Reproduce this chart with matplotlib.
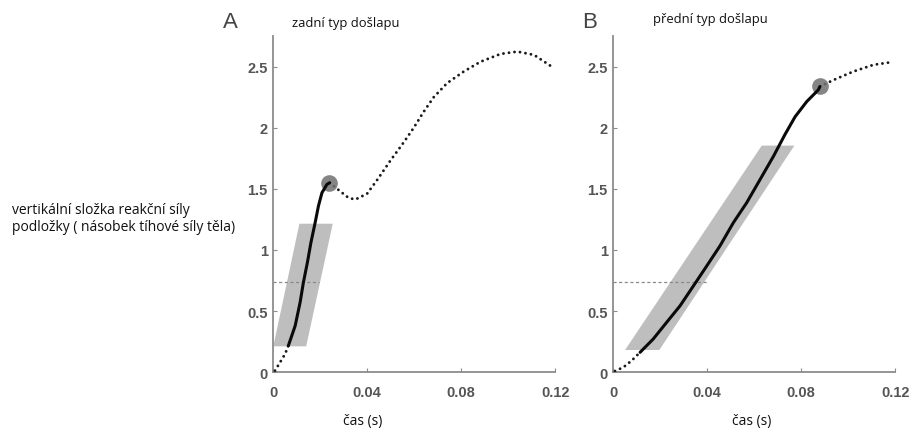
import matplotlib
matplotlib.use("Agg")
import matplotlib.pyplot as plt

# panel A (zadní typ došlapu)
a_start_t = [0.0007, 0.0029, 0.0050, 0.0064]
a_start_f = [0.013, 0.082, 0.149, 0.217]
a_solid_t = [0.0064, 0.0093, 0.0114, 0.0128, 0.0145, 0.0160, 0.0178, 0.0192,
             0.0207, 0.0228, 0.0240]
a_solid_f = [0.217, 0.38, 0.571, 0.734, 0.897, 1.06, 1.223, 1.359,
             1.468, 1.536, 1.55]
a_end_t = [0.0240, 0.0285, 0.0320, 0.0349, 0.0399, 0.0441, 0.0498, 0.0555,
           0.0598, 0.0640, 0.0683, 0.0740, 0.0811, 0.0882, 0.0968, 0.1039,
           0.1110, 0.1195]
a_end_f = [1.55, 1.48, 1.427, 1.413, 1.46, 1.57, 1.73, 1.88,
           2.0, 2.13, 2.25, 2.365, 2.46, 2.54, 2.604, 2.623,
           2.596, 2.488]
a_band_t = [0.0, 0.0140, 0.0253, 0.0111]
a_band_f = [0.212, 0.212, 1.215, 1.215]
a_dash_t = [0.0, 0.0196]
a_peak = (0.0239, 1.55)

# panel B (přední typ došlapu)
b_start_t = [0.0007, 0.0043, 0.0078, 0.0114]
b_start_f = [0.01, 0.041, 0.095, 0.163]
b_solid_t = [0.0114, 0.0170, 0.0227, 0.0284, 0.0341, 0.0398, 0.0454, 0.0511,
             0.0568, 0.0625, 0.0682, 0.0731, 0.0774, 0.0824, 0.0873, 0.0880]
b_solid_f = [0.163, 0.272, 0.408, 0.543, 0.706, 0.87, 1.033, 1.223,
             1.387, 1.577, 1.767, 1.945, 2.09, 2.215, 2.31, 2.338]
b_end_t = [0.0880, 0.0937, 0.1022, 0.1108, 0.1186]
b_end_f = [2.338, 2.39, 2.46, 2.515, 2.537]
b_band_t = [0.005, 0.0196, 0.0771, 0.0632]
b_band_f = [0.182, 0.182, 1.854, 1.854]
b_dash_t = [0.0, 0.0398]
b_peak = (0.0880, 2.338)

dash_level = 0.74
xticks = [0, 0.04, 0.08, 0.12]
xlabels = ["0", "0.04", "0.08", "0.12"]
yticks = [0, 0.5, 1, 1.5, 2, 2.5]
ylabels = ["0", "0.5", "1", "1.5", "2", "2.5"]

fig = plt.figure(figsize=(9.12, 4.31), dpi=100)
axA = fig.add_axes([0.2997, 0.134, 0.309, 0.780])
axB = fig.add_axes([0.6725, 0.134, 0.309, 0.780])

panels = [
    (axA, a_start_t, a_start_f, a_solid_t, a_solid_f, a_end_t, a_end_f,
     a_band_t, a_band_f, a_dash_t, a_peak),
    (axB, b_start_t, b_start_f, b_solid_t, b_solid_f, b_end_t, b_end_f,
     b_band_t, b_band_f, b_dash_t, b_peak),
]

for ax, st, sf, lt, lf, et, ef, bt, bf, dt, pk in panels:
    ax.fill(bt, bf, color="#bebebe", lw=0, zorder=1)
    ax.plot(dt, [dash_level, dash_level], color="#8a8a8a", lw=0.9,
            ls=(0, (2.5, 2)), zorder=2)
    for t, f in [(st, sf), (et, ef)]:
        ax.plot(t, f, color="#1a1a1a", lw=2.1, ls=(0, (0.01, 1.9)),
                dash_capstyle="round", zorder=3)
    ax.plot(pk[0], pk[1], "o", ms=12, color="#707070", alpha=0.85,
            mec="none", zorder=3)
    ax.plot(lt, lf, color="#0a0a0a", lw=2.2, solid_capstyle="round",
            solid_joinstyle="round", zorder=4)

    ax.set_xlim(0, 0.12)
    ax.set_ylim(0, 2.75)
    for s in ["top", "right"]:
        ax.spines[s].set_visible(False)
    for s in ["left", "bottom"]:
        ax.spines[s].set_color("#8c8c8c")
        ax.spines[s].set_linewidth(1.3)
    ax.set_xticks(xticks)
    ax.set_xticklabels(xlabels)
    ax.set_yticks(yticks)
    ax.set_yticklabels(ylabels)
    ax.tick_params(direction="in", length=3, color="#8c8c8c", labelcolor="#555555")
    ax.tick_params(axis="x", pad=9)
    ax.tick_params(axis="y", pad=4)
    for lab in ax.get_xticklabels() + ax.get_yticklabels():
        lab.set_fontfamily("Liberation Sans")
        lab.set_fontweight("bold")
        lab.set_fontsize(10.5)
    ax.patch.set_alpha(0)

txt = dict(family="Open Sans", color="#111111")
fig.text(230 / 912, 1 - 22 / 431, "A", family="Liberation Sans", fontsize=16,
         color="#444444", ha="center", va="center")
fig.text(590 / 912, 1 - 22 / 431, "B", family="Liberation Sans", fontsize=16,
         color="#444444", ha="center", va="center")
fig.text(292 / 912, 1 - 24 / 431, "zadní typ došlapu", va="center",
         fontsize=9.4, **txt)
fig.text(653 / 912, 1 - 20 / 431, "přední typ došlapu", va="center",
         fontsize=9.4, **txt)
fig.text(363 / 912, 1 - 422 / 431, "čas (s)", ha="center", va="center",
         fontsize=10, **txt)
fig.text(752 / 912, 1 - 422 / 431, "čas (s)", ha="center", va="center",
         fontsize=10, **txt)
fig.text(12 / 912, 1 - 219 / 431,
         "vertikální složka reakční síly\npodložky ( násobek tíhové síly těla)",
         va="center", linespacing=1.25, fontsize=10, **txt)

fig.savefig("out.png", dpi=100)
